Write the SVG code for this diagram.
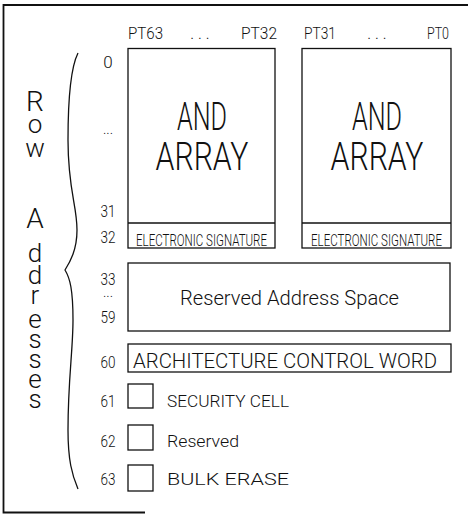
<svg xmlns="http://www.w3.org/2000/svg" width="468" height="515" viewBox="0 0 468 515">
<style>
.t{font-family:Roboto,"Liberation Sans","DejaVu Sans",sans-serif;font-weight:300;fill:#111}
.box{fill:none;stroke:#111;stroke-width:1.3}
.frame{fill:none;stroke:#111;stroke-width:1.8}
.brace{fill:none;stroke:#111;stroke-width:1.3}
.big{font-size:38px}
.lab{font-size:17px}
.pt{font-size:16px}
.num{font-size:17px}
.vert{font-size:26px}
.mid{text-anchor:middle}
</style>
<rect width="468" height="515" fill="#fff"/>
<g id="frame">
<path class="frame" d="M468,5 H3.5 V512.5 H145"/>
</g>
<g id="row-addresses-label" class="t vert mid">
<text x="35" y="111" font-size="28">R</text>
<text x="35" y="133">o</text>
<text x="35" y="157">w</text>
<text x="35" y="228" font-size="28">A</text>
<text x="35" y="262">d</text>
<text x="35" y="284">d</text>
<text x="35" y="304">r</text>
<text x="35" y="328">e</text>
<text x="35" y="348">s</text>
<text x="35" y="368">s</text>
<text x="35" y="388">e</text>
<text x="35" y="408">s</text>
</g>
<g id="connectors">
<path class="brace" d="M78,53 C72,65 68,90 68,140 C68,190 77,205 77,230 C77,250 70,262 65,270 C70,278 73,290 73,320 C73,350 68,380 68,430 C68,460 72,475 78,489"/>
</g>
<g id="row-numbers" class="t num mid">
<text x="108" y="68">0</text>
<text x="108" y="134" font-size="14">...</text>
<text x="108" y="217" textLength="15" lengthAdjust="spacingAndGlyphs">31</text>
<text x="108" y="243" textLength="15" lengthAdjust="spacingAndGlyphs">32</text>
<text x="108" y="285" textLength="15" lengthAdjust="spacingAndGlyphs">33</text>
<text x="108" y="297" font-size="14">...</text>
<text x="108" y="323" textLength="15" lengthAdjust="spacingAndGlyphs">59</text>
<text x="108" y="368" textLength="15" lengthAdjust="spacingAndGlyphs">60</text>
<text x="108" y="407" textLength="15" lengthAdjust="spacingAndGlyphs">61</text>
<text x="108" y="447" textLength="15" lengthAdjust="spacingAndGlyphs">62</text>
<text x="108" y="485" textLength="15" lengthAdjust="spacingAndGlyphs">63</text>
</g>
<g id="pt-labels" class="t pt">
<text x="128" y="39" textLength="35" lengthAdjust="spacingAndGlyphs">PT63</text>
<text x="200" y="39" class="mid">. . .</text>
<text x="241" y="39" textLength="36" lengthAdjust="spacingAndGlyphs">PT32</text>
<text x="304" y="39" textLength="32" lengthAdjust="spacingAndGlyphs">PT31</text>
<text x="377" y="39" class="mid">. . .</text>
<text x="427" y="39" textLength="22" lengthAdjust="spacingAndGlyphs">PT0</text>
</g>
<g id="and-array-left">
<rect class="box" x="128" y="48.5" width="147" height="199.5"/>
<line class="box" x1="128" y1="223" x2="275" y2="223"/>
<text class="t big mid" x="202" y="130" textLength="50" lengthAdjust="spacingAndGlyphs">AND</text>
<text class="t big mid" x="202" y="170" textLength="93" lengthAdjust="spacingAndGlyphs">ARRAY</text>
<text class="t" x="136" y="245.5" font-size="17" textLength="131" lengthAdjust="spacingAndGlyphs">ELECTRONIC  SIGNATURE</text>
</g>
<g id="and-array-right">
<rect class="box" x="302" y="48.5" width="149" height="199.5"/>
<line class="box" x1="302" y1="223" x2="451" y2="223"/>
<text class="t big mid" x="377" y="130" textLength="50" lengthAdjust="spacingAndGlyphs">AND</text>
<text class="t big mid" x="377" y="170" textLength="93" lengthAdjust="spacingAndGlyphs">ARRAY</text>
<text class="t" x="311" y="245.5" font-size="17" textLength="131" lengthAdjust="spacingAndGlyphs">ELECTRONIC  SIGNATURE</text>
</g>
<g id="reserved-address-space">
<rect class="box" x="128" y="263" width="322" height="68"/>
<text class="t" x="180" y="305" font-size="20" textLength="219" lengthAdjust="spacingAndGlyphs">Reserved Address Space</text>
</g>
<g id="architecture-control-word">
<rect class="box" x="128" y="344" width="323" height="28"/>
<text class="t" x="133" y="368" font-size="20" textLength="304" lengthAdjust="spacingAndGlyphs">ARCHITECTURE  CONTROL  WORD</text>
</g>
<g id="security-cell">
<rect class="box" x="128" y="384" width="25" height="24"/>
<text class="t lab" x="167" y="407" textLength="122" lengthAdjust="spacingAndGlyphs">SECURITY  CELL</text>
</g>
<g id="reserved">
<rect class="box" x="128" y="425" width="25" height="25"/>
<text class="t lab" x="167" y="447" textLength="72" lengthAdjust="spacingAndGlyphs">Reserved</text>
</g>
<g id="bulk-erase">
<rect class="box" x="128" y="465" width="25" height="26"/>
<text class="t lab" x="167" y="485" textLength="122" lengthAdjust="spacingAndGlyphs">BULK  ERASE</text>
</g>
</svg>
